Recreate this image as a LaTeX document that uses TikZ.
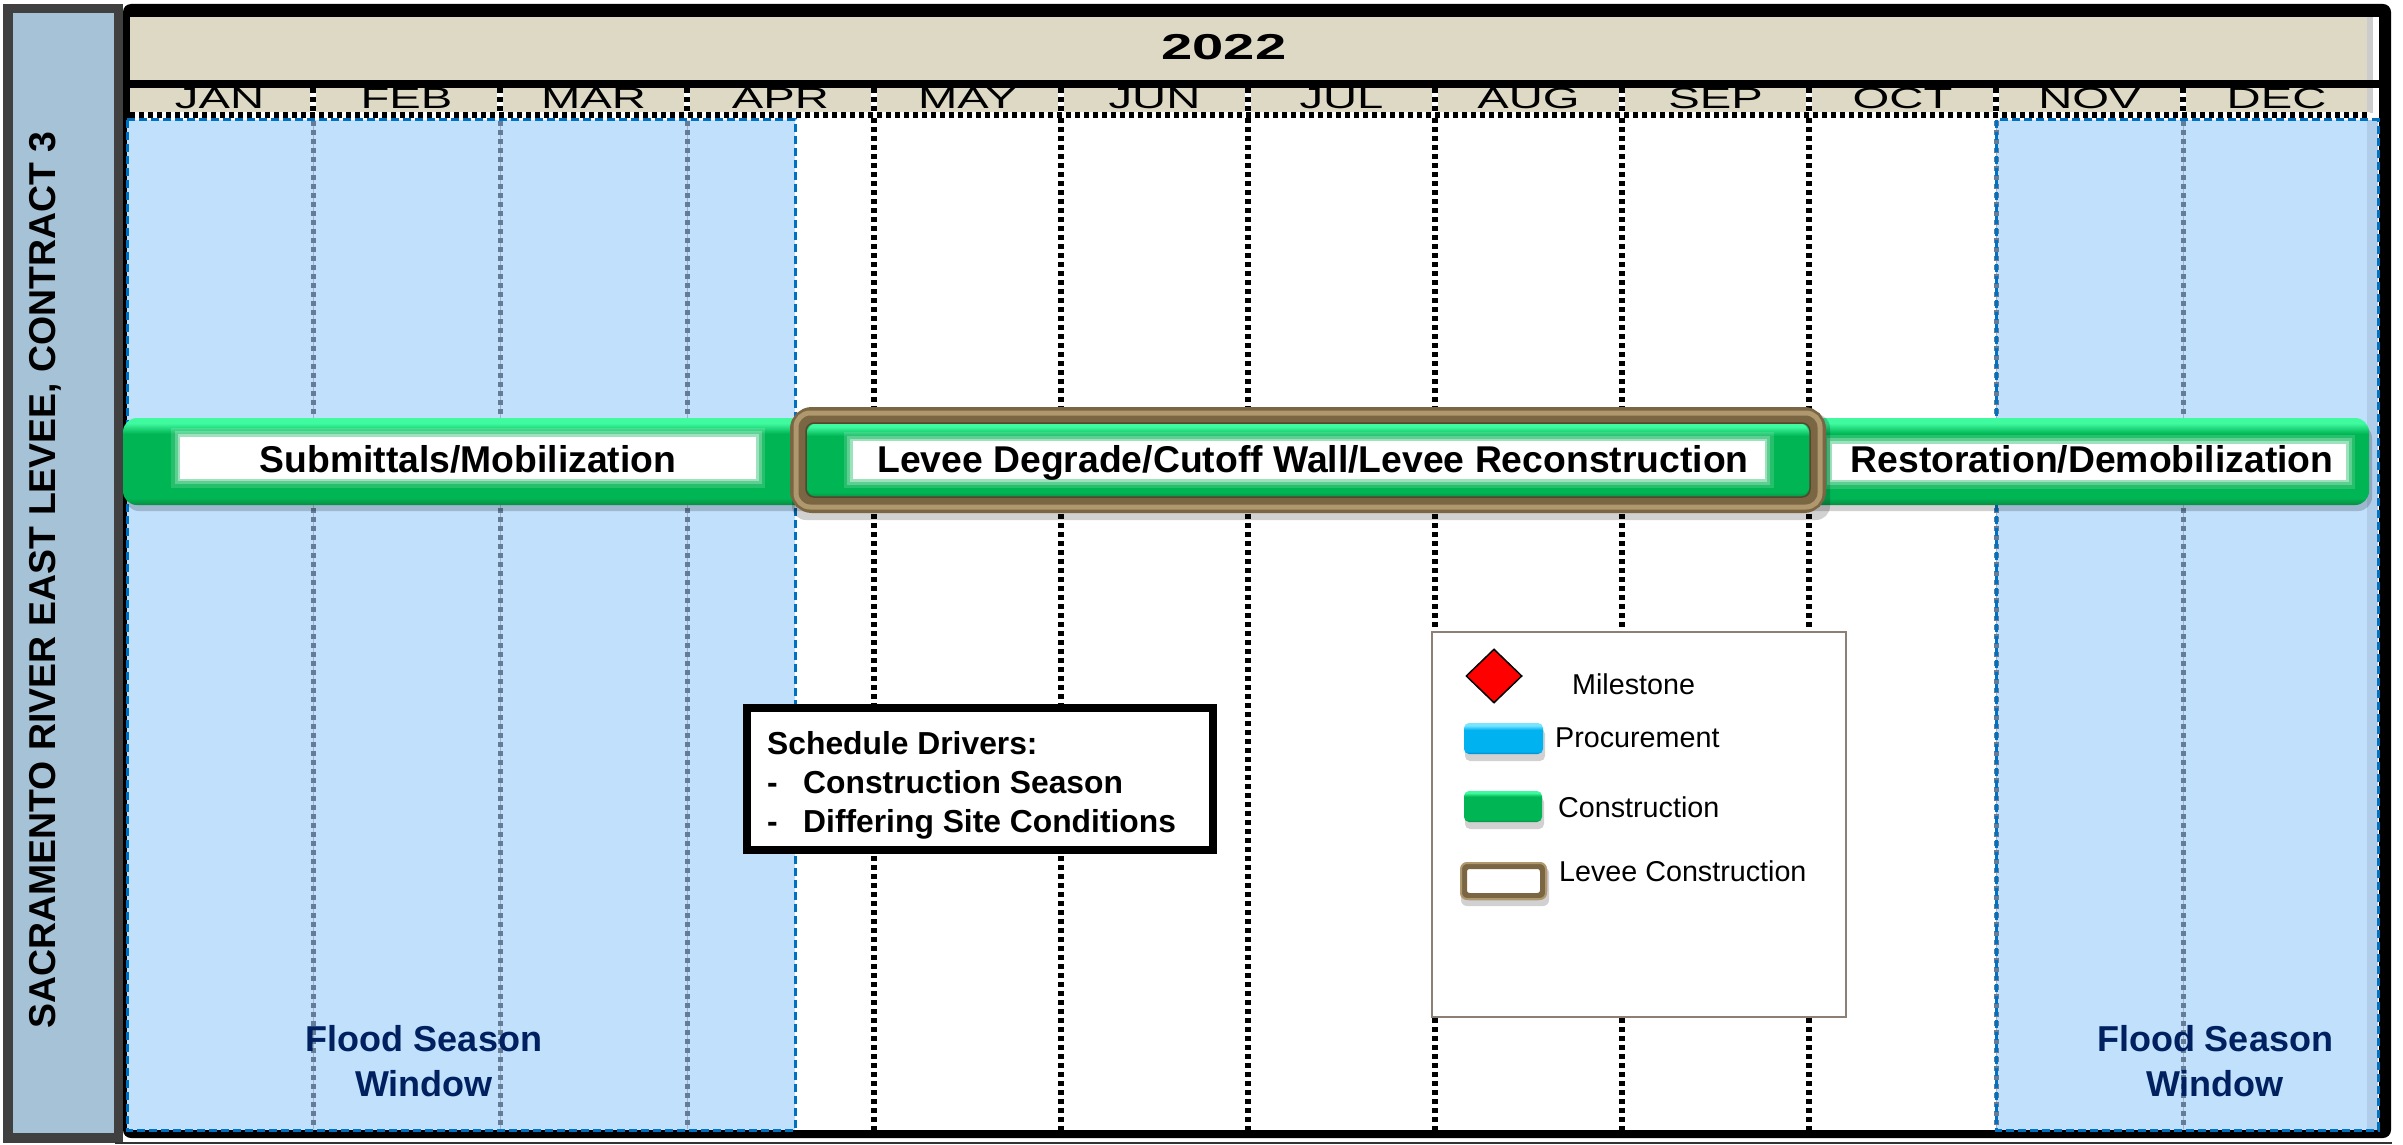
\documentclass[tikz,border=0pt]{standalone}
\usepackage{fontspec}
\setmainfont{Liberation Sans}
\usetikzlibrary{shapes.geometric}
\definecolor{tanhdr}{RGB}{221,217,196}
\definecolor{floodblue}{RGB}{192,224,252}
\definecolor{floodstrip}{RGB}{176,206,234}
\definecolor{floodedge}{RGB}{0,112,192}
\definecolor{panelblue}{RGB}{166,194,214}
\definecolor{paneldark}{RGB}{64,64,64}
\definecolor{divgray}{RGB}{100,124,152}
\definecolor{grn}{RGB}{0,182,84}
\definecolor{grnlight}{RGB}{64,250,160}
\definecolor{grndark}{RGB}{10,140,66}
\definecolor{brownlevee}{RGB}{122,102,66}
\definecolor{brownlight}{RGB}{176,152,110}
\definecolor{navy}{RGB}{0,32,96}
\definecolor{legendedge}{RGB}{140,128,118}
\definecolor{procblue}{RGB}{0,178,240}
\definecolor{proclight}{RGB}{120,228,255}
\definecolor{procdark}{RGB}{0,130,200}
\pgfdeclareverticalshading{gbarshade}{100bp}{color(0bp)=(grndark); color(25bp)=(grndark); color(29bp)=(grn); color(66bp)=(grn); color(72bp)=(grnlight); color(75bp)=(grnlight); color(100bp)=(grnlight)}
\pgfdeclareverticalshading{pbarshade}{100bp}{color(0bp)=(procdark); color(25bp)=(procdark); color(29bp)=(procblue); color(64bp)=(procblue); color(71bp)=(proclight); color(75bp)=(proclight); color(100bp)=(proclight)}
\newcommand\fsz[1]{\fontsize{#1}{#1}\selectfont}
\begin{document}
\begin{tikzpicture}[x=1pt,y=-1pt,
  chk/.style={draw=black, line width=6, dash pattern=on 5pt off 4pt,
              preaction={draw=white, line width=6, solid}},
  gdiv/.style={draw=divgray, line width=5, dash pattern=on 5pt off 4pt,
              preaction={draw=divgray!60, line width=1, solid}},
  floodedgestyle/.style={draw=floodedge, line width=3, dash pattern=on 8pt off 4pt},
  month/.style={font=\fsz{29.5}, xscale=1.6, anchor=base, inner sep=0},
  barlabel/.style={font=\bfseries\fsz{37.3}, anchor=base, inner sep=0},
  glow/.style={fill=white, draw=none, inner sep=0,
              preaction={draw=white, draw opacity=0.15, line width=18},
              preaction={draw=white, draw opacity=0.25, line width=11},
              preaction={draw=white, draw opacity=0.4, line width=5}},
  gbar/.style={shading=gbarshade, rounded corners=14},
  shadow/.style={fill=black, fill opacity=0.18, rounded corners=14},
  drvtext/.style={font=\bfseries\fsz{31.8}, anchor=base west, inner sep=0},
  legtext/.style={font=\fsz{28.7}, anchor=base west, inner sep=0},
  floodtext/.style={font=\bfseries\fsz{36}, text=navy, align=center, inner sep=0}
]
\useasboundingbox (0,0) rectangle (2403,1145);
\fill[white] (0,0) rectangle (2403,1145);

% left title panel
\fill[paneldark] (3,4) rectangle (123,1143);
\fill[panelblue] (13,13) rectangle (114,1133);
\node[rotate=90, anchor=base, inner sep=0, font=\bfseries\fsz{37.4}] (title) at (55,580) {SACRAMENTO RIVER EAST LEVEE, CONTRACT 3};

% main frame
\fill[black, rounded corners=8] (123,4) rectangle (2391,1138);
\fill[white] (130,17) rectangle (2379,1130);
\draw[line width=1.5, black!80] (115,1143) -- (2392,1143);

% flood season regions
\fill[floodblue] (127,120) rectangle (795,1130);
\fill[floodblue] (1996,120) rectangle (2378,1130);
\fill[floodstrip] (2367,120) rectangle (2378,1130);

% header
\fill[tanhdr] (130,17) rectangle (2367,80);
\fill[black] (130,80) rectangle (2379,88);
\fill[tanhdr] (130,88) rectangle (2367,113);
\fill[black!20] (2367,17) rectangle (2373,80);
\fill[black!20] (2367,88) rectangle (2373,113);

% month dividers in header row
\foreach \i in {1,...,11} {
  \draw[chk] ({126+187*\i},88) -- ({126+187*\i},113);
}
% body dividers
\foreach \i in {4,...,9} {
  \draw[chk] ({126+187*\i},118) -- ({126+187*\i},1130);
}
\foreach \i in {1,2,3,10,11} {
  \draw[gdiv] ({126+187*\i},121) -- ({126+187*\i},1129);
}
% flood region borders
\draw[floodedgestyle] (127,120) rectangle (795,1130);
\draw[floodedgestyle] (1996,120) rectangle (2378,1130);

% horizontal checker under months
\draw[chk] (130,115.5) -- (2370,115.5);

% month labels
\begin{scope}
\clip (130,88) rectangle (2367,113);
\foreach \m [count=\k from 0] in {JAN,FEB,MAR,APR,MAY,JUN,JUL,AUG,SEP,OCT,NOV,DEC} {
  \node[month] (m\k) at ({126+187*(\k+0.5)},108.5) {\m};
}
\end{scope}
\node[font=\bfseries\fsz{36}, xscale=1.56, anchor=base, inner sep=0] (year) at (1224,60) {2022};

% bars
\fill[shadow] (125,424) rectangle (822,511);
\fill[shadow] (1800,424) rectangle (2372,511);
\path[gbar] (123,418) rectangle (820,505);
\path[gbar] (1800,418) rectangle (2369,505);

\node[glow, minimum width=576, minimum height=42] (subbox) at (468,457.5) {};
\node[barlabel] (sub) at (468,472) {Submittals/Mobilization};
\node[glow, minimum width=514, minimum height=36] (resbox) at (2089,461.5) {};
\node[barlabel] (res) at (2092,472) {Restoration/Demobilization};

% levee construction box
\fill[shadow] (792,414) rectangle (1830,520);
\path[gbar] (806,422) rectangle (1810,498);
\node[glow, minimum width=912, minimum height=38] (levbox) at (1308.5,460) {};
\node[barlabel] (lev) at (1313,472) {Levee Degrade/Cutoff Wall/Levee Reconstruction};
\draw[brownlevee, line width=16, rounded corners=14] (798,415) rectangle (1818,505);
\draw[brownlight, line width=5, rounded corners=14] (796,413) rectangle (1820,507);
\draw[brownlevee!70!black, line width=1.5, rounded corners=8] (806,423) rectangle (1810,497);

% schedule drivers box
\node[draw=black, fill=white, line width=8, minimum width=466, minimum height=142, inner sep=0] (drivers) at (980,779) {};
\node[drvtext] (drv1) at (767,754) {Schedule Drivers:};
\node[drvtext] (drv2a) at (767,793) {-};
\node[drvtext] (drv2) at (803,793) {Construction Season};
\node[drvtext] (drv3a) at (767,832) {-};
\node[drvtext] (drv3) at (803,832) {Differing Site Conditions};

% legend
\node[draw=legendedge, fill=white, line width=2, minimum width=414, minimum height=385, inner sep=0] (legend) at (1639,824.5) {};
\node[diamond, fill=red, draw=black, line width=1.5, minimum width=56, minimum height=54, inner sep=0] (msym) at (1494,676) {};
\node[legtext] (mtxt) at (1572,694) {Milestone};
\fill[shadow, rounded corners=5] (1465,729) rectangle (1545,761);
\path[shading=pbarshade, rounded corners=5] (1464,723) rectangle (1543,754);
\node[legtext] (ptxt) at (1555,747) {Procurement};
\fill[shadow, rounded corners=5] (1465,797) rectangle (1544,829);
\path[gbar, rounded corners=5] (1464,791) rectangle (1542,822);
\node[legtext] (ctxt) at (1558,817) {Construction};
\fill[shadow, rounded corners=6] (1461,867) rectangle (1549,906);
\draw[brownlevee, fill=white, line width=7, rounded corners=6] (1463.5,865.5) rectangle (1543.5,896.5);
\draw[brownlight, line width=2, rounded corners=6] (1461,863) rectangle (1546,899);
\node[legtext] (ltxt) at (1559,881) {Levee Construction};

% flood season labels
\node[floodtext] (flood1) at (424,1061.5) {Flood Season\\[9pt]Window};
\node[floodtext] (flood2) at (2215,1061.5) {Flood Season\\[9pt]Window};
\end{tikzpicture}
\end{document}
